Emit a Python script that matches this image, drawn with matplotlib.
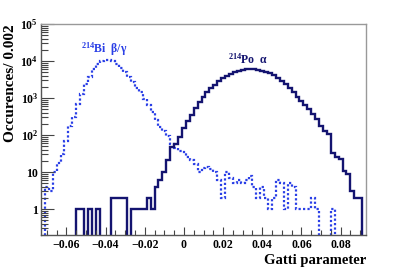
import numpy as np
import matplotlib
matplotlib.use("Agg")
import matplotlib.pyplot as plt
from matplotlib.ticker import FixedLocator, MultipleLocator

plt.rcParams["font.family"] = ["Liberation Serif", "DejaVu Serif"]
plt.rcParams["font.weight"] = "bold"
plt.rcParams["mathtext.fontset"] = "custom"
plt.rcParams["mathtext.rm"] = "Liberation Serif:bold"
plt.rcParams["mathtext.bf"] = "Liberation Serif:bold"
plt.rcParams["mathtext.it"] = "Liberation Serif:bold"

# Histogram binning: 0.002 wide bins from -0.073 to 0.093
bin_lo = -0.073
bin_hi = 0.093
n_bins = 83
edges = np.linspace(bin_lo, bin_hi, n_bins + 1)

# 214Po alpha counts per bin
po_counts = [
    0, 0, 0, 0, 0, 0, 0, 0, 0, 1,
    1, 0, 1, 0, 1, 0, 0, 0, 2, 2,
    2, 2, 0, 1, 1, 1, 1, 2, 1, 4,
    6, 10, 21, 47, 57, 90, 155, 245, 354, 537,
    766, 1090, 1420, 1830, 2290, 2810, 3480, 4000, 4450, 4930,
    5460, 5900, 6100, 6150, 6000, 5800, 5500, 5100, 4700, 4200,
    3500, 2900, 2350, 1850, 1420, 1100, 820, 650, 500, 380,
    270, 180, 125, 105, 33, 25, 23, 11, 9, 3,
    2, 2, 0,
]

# 214Bi beta/gamma counts per bin
bi_counts = [
    0, 4, 3, 10, 18, 31, 70, 178, 300, 690,
    1290, 2400, 3640, 6100, 8300, 9800, 10600, 10700, 10000, 8300,
    6500, 5100, 3800, 2700, 1900, 1450, 950, 650, 420, 260,
    170, 125, 96, 57, 46, 38, 34, 25, 21, 17,
    10, 13, 14, 12, 10, 6, 2, 10, 7, 5,
    6, 5, 6, 8, 4, 2, 4, 2, 1, 2,
    6, 5, 1, 5, 4, 1, 1, 1, 1, 2,
    1, 0, 0, 0, 1, 0, 0, 0, 0, 0,
    0, 0, 0,
]

x_ticks = [-0.06, -0.04, -0.02, 0, 0.02, 0.04, 0.06, 0.08]
x_tick_labels = ["\u22120.06", "\u22120.04", "\u22120.02", "0", "0.02", "0.04", "0.06", "0.08"]
y_ticks = [1, 10, 100, 1000, 10000, 100000]
y_tick_labels = ["1", "10", r"$10^{2}$", r"$10^{3}$", r"$10^{4}$", r"$10^{5}$"]

bi_label = r"$^{214}$Bi" + "  \u03b2/\u03b3"
po_label = r"$^{214}$Po" + "  \u03b1"

y_floor = 0.2
po_plot = np.where(np.array(po_counts) > 0, po_counts, 1e-3)
bi_plot = np.where(np.array(bi_counts) > 0, bi_counts, 1e-3)

fig = plt.figure(figsize=(4.07, 2.70), dpi=100)
ax = fig.add_axes([0.1007, 0.1296, 0.7986, 0.7815])

ax.stairs(bi_plot, edges, baseline=None, color="#2a3fe6", lw=1.6,
          linestyle=(0, (1, 1)))
ax.stairs(po_plot, edges, baseline=None, color="#141470", lw=1.7)

ax.set_yscale("log")
ax.set_xlim(bin_lo, bin_hi)
ax.set_ylim(y_floor, 1e5)

ax.xaxis.set_major_locator(FixedLocator(x_ticks))
ax.set_xticklabels(x_tick_labels)
ax.xaxis.set_minor_locator(MultipleLocator(0.005))
ax.yaxis.set_major_locator(FixedLocator(y_ticks))
ax.set_yticklabels(y_tick_labels)

ax.tick_params(axis="both", which="both", direction="in", colors="#444444",
               labelcolor="black", labelsize=8.5)
ax.tick_params(axis="x", which="major", length=6, width=0.8, pad=3)
ax.tick_params(axis="x", which="minor", length=3.5, width=0.8)
ax.tick_params(axis="y", which="major", length=9, width=0.8, pad=2)
ax.tick_params(axis="y", which="minor", length=5, width=0.8)
ax.tick_params(top=False, right=False)

for side in ["top", "right"]:
    ax.spines[side].set_color("#999999")
    ax.spines[side].set_linewidth(1.0)
for side in ["left", "bottom"]:
    ax.spines[side].set_color("#555555")
    ax.spines[side].set_linewidth(1.0)

ax.set_xlabel("Gatti parameter", fontsize=10.5, fontweight="bold")
ax.xaxis.set_label_coords(1.0, -0.09)
ax.xaxis.label.set_horizontalalignment("right")
ax.set_ylabel("Occurences/ 0.002", fontsize=11, fontweight="bold")
ax.yaxis.set_label_coords(-0.115, 1.0)
ax.yaxis.label.set_verticalalignment("top")
ax.yaxis.label.set_horizontalalignment("right")

ax.text(-0.0525, 1.7e4, bi_label, color="#2a3fe6",
        fontsize=8.5, fontweight="bold", va="baseline")
ax.text(0.0225, 8.5e3, po_label, color="#141470",
        fontsize=8.5, fontweight="bold", va="baseline")

fig.savefig("out.png", dpi=100)
